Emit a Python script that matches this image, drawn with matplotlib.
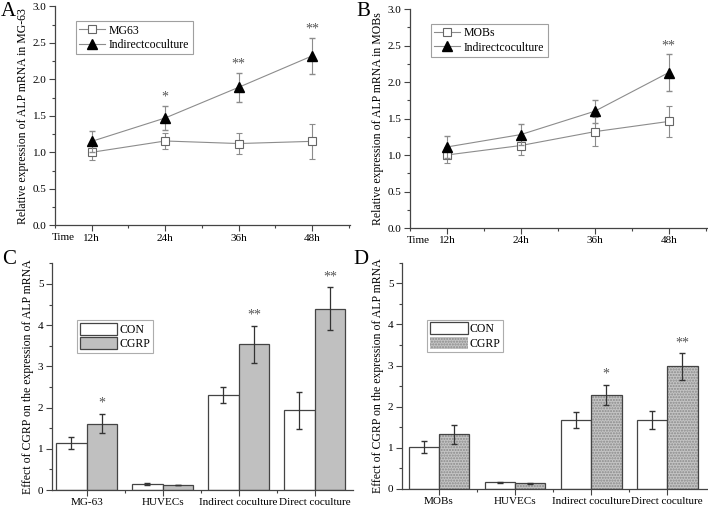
import matplotlib
matplotlib.use("Agg")
import matplotlib.pyplot as plt
import numpy as np
from matplotlib.ticker import MultipleLocator
from matplotlib.patches import Patch
from matplotlib.lines import Line2D

plt.rcParams['font.family'] = ['Liberation Serif', 'DejaVu Serif']
plt.rcParams['font.size'] = 8

# time course panels (A, B)
hours = [12, 24, 36, 48]
hour_labels = ['12h', '24h', '36h', '48h']

mg63 = [1.00, 1.155, 1.12, 1.15]
mg63_err = [0.11, 0.11, 0.145, 0.24]
mg63_cocult = [1.15, 1.47, 1.89, 2.32]
mg63_cocult_err = [0.14, 0.17, 0.20, 0.245]
mg63_stars = ['', '*', '**', '**']

mobs = [1.00, 1.13, 1.32, 1.46]
mobs_err = [0.11, 0.13, 0.20, 0.215]
mobs_cocult = [1.11, 1.28, 1.60, 2.13]
mobs_cocult_err = [0.155, 0.14, 0.16, 0.25]
mobs_stars = ['', '', '', '**']

# CGRP bar panels (C, D)
groups_c = ['MG-63', 'HUVECs', 'Indirect coculture', 'Direct coculture']
con_c = [1.14, 0.146, 2.31, 1.93]
con_c_err = [0.14, 0.02, 0.19, 0.45]
cgrp_c = [1.61, 0.12, 3.53, 4.40]
cgrp_c_err = [0.23, 0.01, 0.46, 0.52]
stars_c = ['*', '', '**', '**']

groups_d = ['MOBs', 'HUVECs', 'Indirect coculture', 'Direct coculture']
con_d = [1.01, 0.16, 1.68, 1.68]
con_d_err = [0.145, 0.02, 0.20, 0.21]
cgrp_d = [1.33, 0.14, 2.28, 2.98]
cgrp_d_err = [0.235, 0.01, 0.245, 0.32]
stars_d = ['', '', '*', '**']

W, H = 708, 507
fig = plt.figure(figsize=(W / 100, H / 100), dpi=100)

def px_axes(left, top, right, bottom):
  return fig.add_axes([left / W, 1 - bottom / H, (right - left) / W, (bottom - top) / H])

line_col = '#8c8c8c'

def time_panel(ax, base, base_err, co, co_err, stars, base_name, ylabel):
  sq = dict(marker='s', ms=5.5, mfc='white', mec='#666666', mew=0.8)
  tri = dict(marker='^', ms=6.5, mfc='black', mec='black')
  ax.errorbar(hours, base, yerr=base_err, color=line_col, lw=0.8, elinewidth=0.8,
              capsize=2.5, zorder=3, **sq)
  ax.errorbar(hours, co, yerr=co_err, color=line_col, lw=0.8, elinewidth=0.8,
              capsize=2.5, zorder=4, **tri)
  for h, v, e, s in zip(hours, co, co_err, stars):
    if s:
      ax.text(h, v + e + 0.03, s, ha='center', va='bottom', color='#555555', fontsize=10)
  ax.set_xlim(6, 54.2)
  ax.set_ylim(0, 3.0)
  ax.set_xticks(hours)
  ax.set_xticklabels(hour_labels)
  ax.xaxis.set_minor_locator(MultipleLocator(6))
  ax.yaxis.set_major_locator(MultipleLocator(0.5))
  ax.yaxis.set_minor_locator(MultipleLocator(0.25))
  ax.yaxis.set_major_formatter(matplotlib.ticker.FormatStrFormatter('%.1f'))
  ax.text(-0.012, -0.035, 'Time', transform=ax.transAxes, ha='left', va='top', fontsize=8)
  ax.set_ylabel(ylabel, fontsize=8.5, labelpad=3)
  handles = [Line2D([], [], color=line_col, lw=0.8, **sq),
             Line2D([], [], color=line_col, lw=0.8, **tri)]
  leg = ax.legend(handles, [base_name, 'Indirectcoculture'], loc='upper left',
                  bbox_to_anchor=(0.05, 0.96), frameon=True,
                  fancybox=False, edgecolor='#888888', fontsize=8.5, handlelength=2.2,
                  borderpad=0.3, labelspacing=0.2, handletextpad=0.3)
  leg.get_frame().set_linewidth(0.8)

def style_axes(ax):
  for side in ['top', 'right']:
    ax.spines[side].set_visible(False)
  for side in ['left', 'bottom']:
    ax.spines[side].set_color('#444444')
    ax.spines[side].set_linewidth(0.9)
  ax.tick_params(which='major', length=4, width=0.8, color='#444444', pad=2, labelsize=8)
  ax.tick_params(which='minor', length=2, width=0.8, color='#444444')

axA = px_axes(55, 6.3, 350, 225.3)
time_panel(axA, mg63, mg63_err, mg63_cocult, mg63_cocult_err, mg63_stars, 'MG63',
           'Relative expression of ALP mRNA in MG-63')
style_axes(axA)

axB = px_axes(410, 9, 707, 228)
time_panel(axB, mobs, mobs_err, mobs_cocult, mobs_cocult_err, mobs_stars, 'MOBs',
           'Relative expression of ALP mRNA in MOBs')
style_axes(axB)

def bar_panel(ax, groups, con, con_err, cgrp, cgrp_err, stars, dotted, xlim):
  x = np.arange(len(groups))
  w = 0.4
  edge = '#444444'
  ax.bar(x - w / 2, con, w, color='white', edgecolor=edge, lw=0.9, zorder=2)
  if dotted:
    ax.bar(x + w / 2, cgrp, w, color='#c4c4c4', edgecolor='#8a8a8a', hatch='......',
           lw=0, zorder=2)
    ax.bar(x + w / 2, cgrp, w, fill=False, edgecolor=edge, lw=0.9, zorder=3)
  else:
    ax.bar(x + w / 2, cgrp, w, color='#c0c0c0', edgecolor=edge, lw=0.9, zorder=2)
  ax.errorbar(x - w / 2, con, yerr=con_err, fmt='none', ecolor='#333333',
              elinewidth=0.9, capsize=2.5, zorder=4)
  ax.errorbar(x + w / 2, cgrp, yerr=cgrp_err, fmt='none', ecolor='#333333',
              elinewidth=0.9, capsize=2.5, zorder=4)
  for xi, v, e, s in zip(x, cgrp, cgrp_err, stars):
    if s:
      ax.text(xi + w / 2, v + e + 0.1, s, ha='center', va='bottom', color='#555555',
              fontsize=10)
  ax.set_xlim(*xlim)
  ax.set_ylim(0, 5.5)
  ax.set_xticks(x)
  ax.set_xticklabels(groups, fontsize=8.5)
  ax.xaxis.set_minor_locator(matplotlib.ticker.FixedLocator(x[:-1] + 0.5))
  ax.yaxis.set_major_locator(MultipleLocator(1))
  ax.yaxis.set_minor_locator(MultipleLocator(0.5))
  ax.set_ylabel('Effect of CGRP on the expression of ALP mRNA', fontsize=8.5, labelpad=3)
  if dotted:
    p2 = Patch(facecolor='#c4c4c4', edgecolor='#8a8a8a', hatch='......', lw=0)
  else:
    p2 = Patch(facecolor='#c0c0c0', edgecolor=edge, lw=0.9)
  handles = [Patch(facecolor='white', edgecolor=edge, lw=0.9), p2]
  leg = ax.legend(handles, ['CON', 'CGRP'], loc='upper left', bbox_to_anchor=(0.065, 0.775),
                  frameon=True, fancybox=False, edgecolor='#999999', fontsize=8.5,
                  handlelength=3.2, handleheight=1.2, borderpad=0.2, labelspacing=0.15,
                  handletextpad=0.2)
  leg.get_frame().set_linewidth(0.8)

axC = px_axes(51.7, 263.3, 352.7, 490)
bar_panel(axC, groups_c, con_c, con_c_err, cgrp_c, cgrp_c_err, stars_c, False, (-0.46, 3.5))
style_axes(axC)

axD = px_axes(401.7, 262.7, 706.7, 489)
bar_panel(axD, groups_d, con_d, con_d_err, cgrp_d, cgrp_d_err, stars_d, True, (-0.49, 3.52))
style_axes(axD)

for letter, x, y in [('A', 8, 11), ('B', 363, 11), ('C', 9, 259), ('D', 361, 259)]:
  fig.text(x / W, 1 - y / H, letter, ha='center', va='center', fontsize=15)

fig.savefig('out.png', dpi=100)
